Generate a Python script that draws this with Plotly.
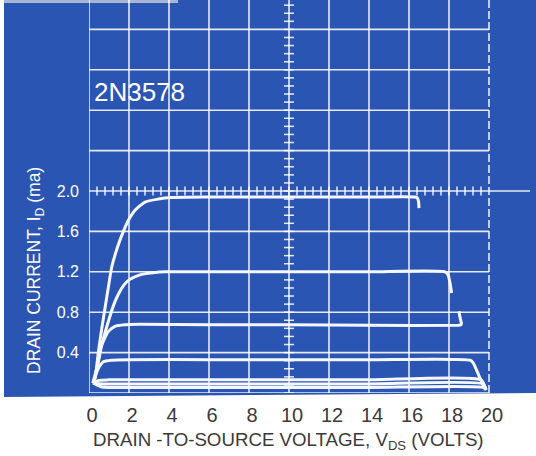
import plotly.graph_objects as go

# ---------------- data ----------------
vds_ticks = [0, 2, 4, 6, 8, 10, 12, 14, 16, 18, 20]
vds_tick_labels = ["0", "2", "4", "6", "8", "10", "12", "14", "16", "18", "20"]
id_ticks = [0.4, 0.8, 1.2, 1.6, 2.0]
id_tick_labels = ["0.4", "0.8", "1.2", "1.6", "2.0"]

curve1_v = [0.2, 0.3, 0.47, 0.64, 0.8, 0.97, 1.14, 1.47, 1.72, 1.97, 2.3, 2.8, 3.47, 4.1, 6.0, 10.0, 14.0, 16.3, 16.42, 16.48, 16.5]
curve1_i = [0.1, 0.14, 0.41, 0.64, 0.84, 1.05, 1.25, 1.47, 1.60, 1.71, 1.81, 1.89, 1.92, 1.935, 1.94, 1.94, 1.94, 1.94, 1.93, 1.89, 1.83]

curve2_v = [0.2, 0.35, 0.55, 0.97, 1.25, 1.5, 1.75, 2.0, 2.55, 3.2, 3.8, 6.0, 10.0, 14.0, 17.8, 17.95, 18.05, 18.13]
curve2_i = [0.1, 0.2, 0.41, 0.71, 0.88, 0.99, 1.07, 1.12, 1.17, 1.19, 1.20, 1.20, 1.20, 1.20, 1.20, 1.17, 1.09, 0.99]

curve3_v = [0.2, 0.47, 0.64, 0.97, 1.3, 1.8, 2.5, 6.0, 10.0, 14.0, 18.45, 18.58, 18.62, 18.56, 18.5]
curve3_i = [0.1, 0.31, 0.475, 0.61, 0.66, 0.675, 0.68, 0.675, 0.675, 0.67, 0.67, 0.672, 0.69, 0.74, 0.81]

curve4_v = [0.2, 0.47, 0.72, 1.14, 2.0, 6.0, 10.0, 14.0, 19.05, 19.2, 19.5, 19.82]
curve4_i = [0.1, 0.245, 0.31, 0.325, 0.33, 0.33, 0.33, 0.33, 0.325, 0.30, 0.17, 0.03]

curve5_v = [0.2, 0.5, 1.0, 6.0, 10.0, 14.0, 19.6, 19.82]
curve5_i = [0.1, 0.125, 0.13, 0.13, 0.13, 0.13, 0.13, 0.04]

curve6_v = [0.2, 0.5, 1.0, 6.0, 10.0, 14.0, 19.7, 19.85]
curve6_i = [0.1, 0.092, 0.09, 0.09, 0.09, 0.09, 0.09, 0.035]

curve7_v = [0.2, 0.6, 1.0, 6.0, 10.0, 14.0, 19.75, 19.87]
curve7_i = [0.1, 0.062, 0.055, 0.055, 0.055, 0.055, 0.055, 0.03]

curves = [(curve1_v, curve1_i), (curve2_v, curve2_i), (curve3_v, curve3_i),
          (curve4_v, curve4_i), (curve5_v, curve5_i), (curve6_v, curve6_i),
          (curve7_v, curve7_i)]

# ---------------- layout geometry ----------------
W, H = 536, 456
L, R, T, B = 89, 0, 0, 63
PW, PH = W - L - R, H - T - B
XMAX = PW / 20.0      # 20 px per volt
YMAX = PH / 101.0     # ~101 px per mA
BLUE = "#2B55B3"
LINE = "rgba(255,255,255,0.88)"
TRACE = "#F6F8FF"
FONT = "Liberation Sans, Arial, sans-serif"


def px2paper(px, py):
    return (px - L) / PW, (H - B - py) / PH


fig = go.Figure()

# graticule minor ticks (decoration)
tx, ty = [], []
k = 0
while k * 0.08 <= YMAX:
    y = k * 0.08
    tx += [9.75, 10.25, None]
    ty += [y, y, None]
    k += 1
for k in range(1, 50):
    x = k * 0.4
    tx += [x, x, None]
    ty += [1.955, 2.045, None]
fig.add_trace(go.Scatter(x=tx, y=ty, mode="lines", line=dict(color=LINE, width=1.5),
                         hoverinfo="skip", showlegend=False))

for v, i in curves:
    fig.add_trace(go.Scatter(x=v, y=i, mode="lines",
                             line=dict(color=TRACE, width=3, shape="spline", smoothing=0.6),
                             showlegend=False))

shapes = []
# blue photographic background
x0, y0 = px2paper(4, 0)
x1, y1 = px2paper(536, 393)
x2, y2 = px2paper(4, 397)
shapes.append(dict(type="path", xref="paper", yref="paper", layer="below",
                   path=f"M {x0},{y0} L {px2paper(536,0)[0]},{y0} L {x1},{y1} L {x2},{y2} Z",
                   fillcolor=BLUE, line=dict(width=0)))
# grey strip at top-left
gx0, gy0 = px2paper(4, 0)
gx1, gy1 = px2paper(178, 3)
shapes.append(dict(type="rect", xref="paper", yref="paper", layer="below",
                   x0=gx0, y0=gy1, x1=gx1, y1=gy0, fillcolor="#A9B6D2", line=dict(width=0)))
# vertical grid lines
for xv in vds_ticks[:-1]:
    shapes.append(dict(type="line", xref="x", yref="paper", x0=xv, x1=xv, y0=0, y1=1,
                       layer="below", line=dict(color=LINE, width=1.6)))
shapes.append(dict(type="line", xref="x", yref="paper", x0=20, x1=20, y0=0, y1=1,
                   layer="below", line=dict(color=LINE, width=1.6, dash="8px,3px")))
# horizontal grid lines
for k in range(0, 10):
    yv = round(k * 0.4, 2)
    xe = 22.05 if abs(yv - 2.0) < 1e-9 else 20
    shapes.append(dict(type="line", xref="x", yref="y", x0=0, x1=xe, y0=yv, y1=yv,
                       layer="below", line=dict(color=LINE, width=1.6)))

fig.update_layout(
    width=W, height=H,
    margin=dict(l=L, r=R, t=T, b=B, pad=0, autoexpand=False),
    paper_bgcolor="white", plot_bgcolor="rgba(0,0,0,0)",
    shapes=shapes,
    showlegend=False,
    xaxis=dict(range=[0, XMAX], showgrid=False, zeroline=False, showline=False,
               automargin=False,
               tickvals=vds_ticks, ticktext=vds_tick_labels, ticks="",
               tickfont=dict(family=FONT, size=20, color="#3a3a3a"),
               ticklabelshift=3, ticklabelstandoff=8),
    yaxis=dict(range=[0, YMAX], showgrid=False, zeroline=False, showline=False,
               automargin=False,
               tickvals=id_ticks, ticktext=id_tick_labels, ticks="",
               tickfont=dict(family=FONT, size=16, color="white"),
               ticklabelstandoff=9),
)

ax, ay = px2paper(139, 92)
fig.add_annotation(x=ax, y=ay, xref="paper", yref="paper", text="2N3578",
                   xanchor="center", yanchor="middle",
                   showarrow=False, font=dict(family=FONT, size=26, color="white"))
ax, ay = px2paper(35, 271)
fig.add_annotation(x=ax, y=ay, xref="paper", yref="paper",
                   text="DRAIN CURRENT, I<sub>D</sub> (ma)", textangle=-90,
                   xanchor="center", yanchor="middle",
                   showarrow=False, font=dict(family=FONT, size=17.5, color="white"))
ax, ay = px2paper(288, 441)
fig.add_annotation(x=ax, y=ay, xref="paper", yref="paper",
                   text="DRAIN -TO-SOURCE VOLTAGE, V<sub>DS</sub> (VOLTS)",
                   xanchor="center", yanchor="middle",
                   showarrow=False, font=dict(family=FONT, size=18.7, color="#3a3a3a"))

fig.write_html("out.html", config={"displayModeBar": False},
               post_script="document.body.style.margin='0';document.body.style.padding='0';")
